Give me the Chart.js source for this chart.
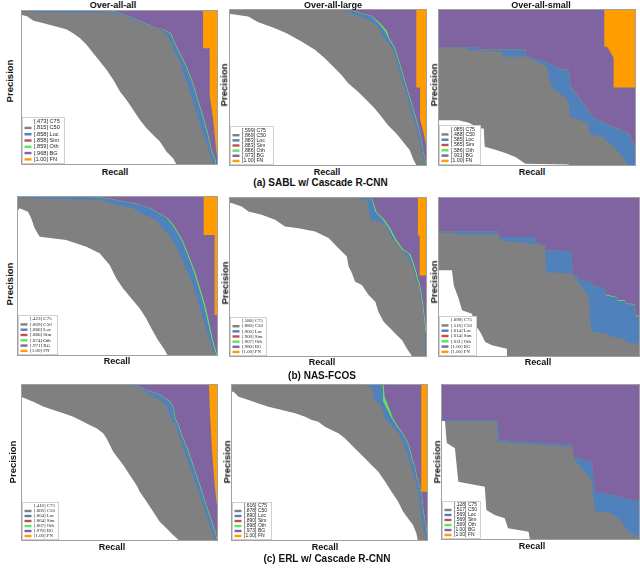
<!DOCTYPE html>
<html><head><meta charset="utf-8">
<script src="https://cdn.jsdelivr.net/npm/chart.js@4.4.0/dist/chart.umd.min.js"></script>
<style>
html,body{margin:0;padding:0;background:#fff;}
#fig{position:relative;width:640px;height:582px;overflow:hidden;font-family:"Liberation Sans",Arial,sans-serif;}
.plot{position:absolute;}
.lbl{position:absolute;font-weight:bold;font-size:9px;line-height:1;white-space:nowrap;transform:translate(-50%,-50%);color:#111;}
.ylbl{transform:translate(-50%,-50%) rotate(-90deg);font-size:9.5px;}
.cap{font-size:10px;}
</style></head><body><div id="fig"></div>
<script>
// ---------- categories / labels ----------
const SERIES = ['C75','C50','Loc','Sim','Oth','BG','FN'];
const COL_TITLES = ['Over-all-all','Over-all-large','Over-all-small'];
const ROW_CAPTIONS = ['(a) SABL w/ Cascade R-CNN','(b) NAS-FCOS','(c) ERL w/ Cascade R-CNN'];
const AXIS_X = 'Recall', AXIS_Y = 'Precision';

// ---------- AP legend values ----------
const SABL_ALL_AP   = ['.473','.815','.858','.858','.859','.968','1.00'];
const SABL_LARGE_AP = ['.599','.869','.883','.883','.886','.973','1.00'];
const SABL_SMALL_AP = ['.085','.488','.585','.585','.586','.931','1.00'];
const NAS_ALL_AP    = ['.423','.809','.866','.866','.874','.971','1.00'];
const NAS_LARGE_AP  = ['.580','.880','.900','.900','.907','.980','1.00'];
const NAS_SMALL_AP  = ['.098','.516','.614','.614','.631','1.00','1.00'];
const ERL_ALL_AP    = ['.416','.806','.864','.864','.867','.970','1.00'];
const ERL_LARGE_AP  = ['.616','.878','.890','.890','.898','.973','1.00'];
const ERL_SMALL_AP  = ['.128','.517','.569','.569','.569','1.00','1.00'];

// ---------- PR curves [recall, precision] ----------
const FN_CURVE = [[0,1],[1,1]];

const SABL_ALL_C75 = [[0,.97],[.03,.96],[.064,.931],[.115,.914],[.182,.892],[.233,.875],[.266,.849],[.300,.817],[.334,.774],[.368,.720],[.401,.667],[.435,.613],[.469,.548],[.503,.473],[.536,.419],[.570,.355],[.604,.290],[.637,.237],[.671,.194],[.705,.151],[.739,.086],[.772,.043],[.789,.004],[.79,0]];
const SABL_ALL_C50 = [[0,.99],[.06,.99],[.07,.985],[.452,.983],[.503,.968],[.570,.935],[.637,.903],[.688,.882],[.722,.860],[.747,.828],[.764,.785],[.781,.731],[.806,.667],[.823,.602],[.840,.538],[.857,.473],[.874,.409],[.890,.344],[.907,.269],[.924,.204],[.941,.140],[.958,.075],[.971,.022],[.975,0]];
const SABL_ALL_LOC = [[0,1],[.469,.99],[.520,.968],[.587,.935],[.663,.892],[.722,.871],[.758,.849],[.777,.785],[.795,.742],[.837,.634],[.870,.527],[.895,.419],[.921,.312],[.945,.204],[.964,.097],[.984,.032],[.988,0]];
const SABL_ALL_OTH = [[0,1],[.469,.993],[.524,.97],[.591,.937],[.667,.894],[.726,.873],[.762,.851],[.781,.787],[.799,.744],[.841,.636],[.874,.529],[.899,.421],[.925,.314],[.949,.206],[.968,.099],[.988,.033],[.992,0]];
const SABL_ALL_BG  = [[0,1],[.924,1],[.924,.753],[.958,.753],[.958,.45],[.975,.30],[.983,.20],[.99,.1],[1,.02]];

const SABL_LARGE_C75 = [[0,.97],[.097,.953],[.148,.915],[.232,.878],[.291,.846],[.366,.793],[.434,.740],[.484,.687],[.526,.633],[.568,.580],[.602,.527],[.652,.473],[.694,.420],[.736,.367],[.770,.313],[.803,.260],[.845,.207],[.879,.154],[.913,.100],[.929,.047],[.946,.004],[.947,0]];
const SABL_LARGE_C50 = [[0,1],[.585,.996],[.618,.974],[.703,.932],[.753,.889],[.770,.846],[.803,.783],[.829,.740],[.854,.633],[.879,.527],[.904,.420],[.929,.313],[.955,.207],[.971,.100],[.983,.036],[.988,0]];
const SABL_LARGE_LOC = [[0,1],[.585,1],[.635,.983],[.719,.953],[.761,.900],[.787,.857],[.803,.815],[.837,.745],[.862,.640],[.887,.533],[.913,.425],[.938,.318],[.963,.21],[.978,.10],[.99,.03],[.994,0]];
const SABL_LARGE_OTH = [[0,1],[.59,1],[.638,.985],[.722,.955],[.768,.905],[.797,.862],[.808,.818],[.841,.747],[.866,.642],[.891,.535],[.917,.427],[.942,.32],[.966,.212],[.981,.10],[.993,.03],[.997,0]];
const SABL_LARGE_BG  = [[0,1],[.946,1],[.946,.50],[.965,.50],[.965,.30],[.985,.2],[1,.1]];

const SABL_SMALL_C75 = [[0,.292],[.104,.292],[.155,.275],[.214,.239],[.231,.239],[.236,.122],[.290,.104],[.340,.083],[.391,.058],[.441,.015],[.66,.009],[.663,0]];
const SABL_SMALL_C50 = [[0,.755],[.146,.755],[.15,.740],[.32,.729],[.33,.697],[.44,.697],[.50,.665],[.55,.633],[.56,.569],[.575,.505],[.60,.473],[.64,.441],[.66,.41],[.665,.313],[.72,.29],[.76,.271],[.765,.207],[.84,.18],[.845,.164],[.89,.122],[.925,.07],[.955,.015],[.955,0]];
const SABL_SMALL_LOC = [[0,.757],[.206,.757],[.206,.742],[.441,.742],[.441,.70],[.542,.665],[.626,.612],[.66,.612],[.668,.505],[.769,.335],[.778,.313],[.879,.249],[.963,.207],[.989,.132],[1,.05]];
const SABL_SMALL_OTH = [[0,.758],[.206,.758],[.207,.743],[.441,.743],[.442,.70],[.543,.666],[.627,.613],[.661,.613],[.669,.506],[.77,.336],[.779,.314],[.88,.25],[.964,.208],[.99,.133],[1,.052]];
const SABL_SMALL_BG  = [[0,1],[.84,1],[.84,.76],[.854,.76],[.887,.69],[.887,.50],[1,.50]];

const NAS_ALL_C75 = [[0,.90],[.013,.923],[.055,.902],[.071,.860],[.088,.798],[.113,.746],[.245,.725],[.345,.683],[.411,.642],[.461,.569],[.494,.485],[.527,.423],[.569,.360],[.610,.298],[.643,.235],[.668,.173],[.701,.100],[.735,.038],[.751,0]];
const NAS_ALL_C50 = [[0,.99],[.11,.985],[.411,.975],[.47,.95],[.577,.923],[.627,.883],[.678,.860],[.70,.838],[.755,.756],[.806,.652],[.84,.548],[.875,.444],[.90,.340],[.925,.235],[.95,.131],[.975,.027],[.985,0]];
const NAS_ALL_LOC = [[0,1],[.41,.99],[.577,.954],[.66,.923],[.743,.862],[.772,.819],[.818,.725],[.851,.621],[.879,.527],[.904,.423],[.929,.319],[.948,.215],[.967,.110],[.984,.035],[.99,0]];
const NAS_ALL_OTH = [[0,1],[.41,.994],[.582,.957],[.666,.924],[.749,.862],[.779,.819],[.824,.725],[.857,.621],[.886,.527],[.911,.423],[.936,.319],[.955,.215],[.973,.110],[.99,.035],[.996,0]];
const NAS_ALL_BG  = [[0,1],[.929,1],[.929,.756],[.983,.756],[.983,.256],[1,.256]];

const NAS_LARGE_C75 = [[0,.962],[.013,.962],[.064,.941],[.098,.910],[.165,.889],[.233,.858],[.283,.816],[.351,.805],[.435,.785],[.503,.743],[.553,.680],[.595,.628],[.604,.565],[.621,.523],[.637,.471],[.671,.450],[.705,.387],[.739,.345],[.755,.282],[.781,.220],[.815,.178],[.848,.136],[.874,.105],[.899,.052],[.924,.006],[.925,0]];
const NAS_LARGE_C50 = [[0,1],[.62,.998],[.697,.981],[.713,.861],[.755,.847],[.79,.826],[.805,.784],[.823,.742],[.848,.701],[.882,.660],[.933,.556],[.941,.492],[.958,.450],[.966,.387],[.975,.324],[.983,.241],[.988,.157],[.99,.09],[.99,0]];
const NAS_LARGE_LOC = [[0,1],[.688,1],[.722,.983],[.739,.904],[.773,.862],[.806,.805],[.84,.725],[.874,.67],[.907,.645],[.924,.595],[.941,.53],[.95,.48],[.958,.46],[.966,.41],[.975,.335],[.983,.255],[.99,.17],[1,.11]];
const NAS_LARGE_OTH = [[0,1],[.69,1],[.726,.984],[.745,.906],[.781,.864],[.814,.807],[.848,.727],[.881,.672],[.915,.646],[.93,.597],[.947,.532],[.955,.483],[.963,.462],[.971,.41],[.98,.335],[.988,.255],[.995,.17],[1,.13]];
const NAS_LARGE_BG  = [[0,1],[.954,1],[.954,.76],[.963,.76],[.963,.51],[1,.51]];

const NAS_SMALL_C75 = [[0,.542],[.069,.542],[.078,.448],[.102,.365],[.119,.292],[.168,.271],[.185,.198],[.209,.156],[.234,.094],[.267,.073],[.341,.052],[.342,0]];
const NAS_SMALL_C50 = [[0,.777],[.086,.777],[.09,.765],[.30,.765],[.308,.729],[.53,.698],[.535,.531],[.662,.521],[.695,.469],[.745,.385],[.75,.281],[.76,.156],[.835,.15],[.84,.135],[.926,.11],[.93,.094],[1,.083]];
const NAS_SMALL_LOC = [[0,.785],[.30,.785],[.30,.75],[.481,.75],[.481,.719],[.53,.70],[.53,.667],[.662,.66],[.665,.51],[.695,.51],[.70,.479],[.761,.47],[.765,.448],[.827,.43],[.83,.385],[.885,.37],[.89,.35],[.926,.348],[.93,.33],[.975,.327],[.978,.26],[1,.244]];
const NAS_SMALL_OTH = [[0,.785],[.30,.785],[.30,.75],[.481,.75],[.481,.719],[.53,.70],[.53,.667],[.662,.66],[.665,.51],[.695,.51],[.70,.479],[.761,.47],[.765,.448],[.827,.43],[.83,.39],[.885,.375],[.89,.356],[.926,.354],[.93,.335],[.975,.332],[.978,.266],[1,.25]];
const NAS_SMALL_BG  = [[0,1],[1,1]];

const ERL_ALL_C75 = [[0,.919],[.0625,.887],[.113,.856],[.164,.834],[.215,.813],[.265,.792],[.299,.771],[.333,.749],[.383,.718],[.417,.686],[.434,.654],[.451,.611],[.468,.569],[.493,.527],[.519,.484],[.552,.420],[.586,.357],[.603,.314],[.637,.251],[.671,.187],[.704,.123],[.738,.081],[.772,.038],[.806,0]];
const ERL_ALL_C50 = [[0,.994],[.535,.994],[.569,.983],[.62,.962],[.654,.93],[.704,.898],[.738,.866],[.755,.803],[.772,.76],[.789,.718],[.806,.654],[.831,.569],[.848,.505],[.865,.442],[.89,.357],[.907,.293],[.924,.229],[.941,.166],[.958,.102],[.975,.038],[.983,0]];
const ERL_ALL_LOC = [[0,1],[.569,.994],[.704,.93],[.755,.887],[.772,.845],[.78,.781],[.796,.739],[.813,.675],[.831,.622],[.848,.569],[.865,.505],[.882,.442],[.899,.378],[.916,.314],[.932,.251],[.949,.187],[.966,.123],[.983,.059],[.995,0]];
const ERL_ALL_OTH = [[0,1],[.573,.995],[.708,.931],[.759,.888],[.776,.846],[.784,.782],[.8,.74],[.817,.676],[.835,.623],[.852,.57],[.869,.506],[.886,.443],[.903,.379],[.92,.315],[.936,.252],[.953,.188],[.97,.124],[.987,.06],[.998,0]];
const ERL_ALL_BG  = [[0,1],[.954,1],[.96,.79],[.97,.57],[.983,.36],[.992,.25],[1,.2]];

const ERL_LARGE_C75 = [[0,.95],[.013,.951],[.039,.919],[.089,.898],[.14,.876],[.19,.855],[.258,.834],[.326,.813],[.376,.792],[.41,.77],[.443,.76],[.477,.728],[.51,.707],[.545,.686],[.578,.654],[.612,.611],[.646,.569],[.68,.527],[.713,.484],[.747,.442],[.781,.38],[.815,.314],[.848,.251],[.874,.187],[.899,.144],[.924,.102],[.941,.049],[.949,0]];
const ERL_LARGE_C50 = [[0,.994],[.66,.994],[.70,.985],[.72,.97],[.725,.90],[.76,.87],[.781,.781],[.857,.675],[.89,.569],[.916,.463],[.941,.357],[.958,.251],[.966,.144],[.983,.059],[.99,0]];
const ERL_LARGE_LOC = [[0,1],[.70,1],[.77,.99],[.772,.887],[.798,.824],[.815,.781],[.848,.717],[.874,.675],[.899,.611],[.916,.526],[.933,.463],[.941,.41],[.953,.357],[.966,.293],[.975,.187],[.987,.102],[.995,.038],[1,0]];
const ERL_LARGE_OTH = [[0,1],[.70,1],[.775,.995],[.78,.915],[.808,.83],[.821,.784],[.853,.719],[.878,.677],[.903,.613],[.92,.528],[.936,.465],[.944,.412],[.956,.359],[.969,.295],[.978,.189],[.99,.104],[.998,.04],[1,.02]];
const ERL_LARGE_BG  = [[0,1],[.966,1],[.966,.314],[1,.314]];

const ERL_SMALL_C75 = [[0,.763],[.02,.763],[.029,.621],[.07,.588],[.087,.374],[.22,.342],[.228,.192],[.27,.16],[.32,.139],[.337,.075],[.44,.053],[.447,0]];
const ERL_SMALL_C50 = [[0,.763],[.28,.763],[.285,.63],[.657,.598],[.665,.534],[.69,.481],[.74,.417],[.757,.374],[.774,.182],[.858,.171],[.908,.118],[.941,.053],[.992,.021],[1,.02]];
const ERL_SMALL_LOC = [[0,.77],[.285,.77],[.29,.64],[.657,.61],[.665,.535],[.757,.5],[.774,.31],[.858,.29],[.95,.26],[1,.246]];
const ERL_SMALL_OTH = [[0,.77],[.285,.77],[.29,.64],[.657,.61],[.665,.535],[.757,.5],[.774,.31],[.858,.29],[.95,.26],[1,.246]];
const ERL_SMALL_BG  = [[0,1],[1,1]];

// ---------- panel -> data ----------
const PANEL_DATA = [
  [SABL_ALL_C75,SABL_ALL_C50,SABL_ALL_LOC,SABL_ALL_LOC,SABL_ALL_OTH,SABL_ALL_BG,FN_CURVE,SABL_ALL_AP],
  [SABL_LARGE_C75,SABL_LARGE_C50,SABL_LARGE_LOC,SABL_LARGE_LOC,SABL_LARGE_OTH,SABL_LARGE_BG,FN_CURVE,SABL_LARGE_AP],
  [SABL_SMALL_C75,SABL_SMALL_C50,SABL_SMALL_LOC,SABL_SMALL_LOC,SABL_SMALL_OTH,SABL_SMALL_BG,FN_CURVE,SABL_SMALL_AP],
  [NAS_ALL_C75,NAS_ALL_C50,NAS_ALL_LOC,NAS_ALL_LOC,NAS_ALL_OTH,NAS_ALL_BG,FN_CURVE,NAS_ALL_AP],
  [NAS_LARGE_C75,NAS_LARGE_C50,NAS_LARGE_LOC,NAS_LARGE_LOC,NAS_LARGE_OTH,NAS_LARGE_BG,FN_CURVE,NAS_LARGE_AP],
  [NAS_SMALL_C75,NAS_SMALL_C50,NAS_SMALL_LOC,NAS_SMALL_LOC,NAS_SMALL_OTH,NAS_SMALL_BG,FN_CURVE,NAS_SMALL_AP],
  [ERL_ALL_C75,ERL_ALL_C50,ERL_ALL_LOC,ERL_ALL_LOC,ERL_ALL_OTH,ERL_ALL_BG,FN_CURVE,ERL_ALL_AP],
  [ERL_LARGE_C75,ERL_LARGE_C50,ERL_LARGE_LOC,ERL_LARGE_LOC,ERL_LARGE_OTH,ERL_LARGE_BG,FN_CURVE,ERL_LARGE_AP],
  [ERL_SMALL_C75,ERL_SMALL_C50,ERL_SMALL_LOC,ERL_SMALL_LOC,ERL_SMALL_OTH,ERL_SMALL_BG,FN_CURVE,ERL_SMALL_AP]
];

// ---------- layout & style ----------
const COLORS = ['#ffffff','#808080','#4f81bd','#c0504d','#5ce462','#8064a2','#ff9c00'];
const PLOT_BOX = [[21,10,197,155],[229,9,198,157],[438,9,198,157],
                  [17,196,201,160],[229,197,198,160],[438,197,202,160],
                  [21,384,197,157],[231,384,197,157],[441,384,199,156]];
const LEGEND_BOX = [[43,47,5.6],[44,39,5.2],[42,40,5.2],[40,40,5],[37,39,4.8],[38,40,4.8],[37,38,4.8],[40,38,5],[39,38,5]];
const LEGEND_SERIF = [false,false,false,true,true,true,true,false,false];
const TITLE_POS = [[113,4.5],[333,4.5],[541,4.5]];
const RECALL_POS = [[115,172],[327,172],[532,172],[117,361],[322,362],[538,362],[112,547],[325,547],[532,546]];
const PREC_POS = [[10,81],[224,85],[434,85],[9.5,284],[224.5,283],[434,282],[12.5,462],[226.5,462],[436.5,462]];
const CAPTION_POS = [[320.5,183],[322,375.5],[327,559]];

const fig = document.getElementById('fig');
function addLabel(text, x, y, cls){
  const d = document.createElement('div');
  d.className = 'lbl ' + (cls||'');
  d.textContent = text;
  d.style.left = x + 'px'; d.style.top = y + 'px';
  fig.appendChild(d);
}

const framePlugin = {
  id: 'frameLegend',
  afterDraw(chart, args, opts){
    const ctx = chart.ctx, a = chart.chartArea;
    ctx.save();
    ctx.strokeStyle = '#a0a0a0'; ctx.lineWidth = 1;
    ctx.strokeRect(a.left+0.5, a.top+0.5, a.right-a.left-1, a.bottom-a.top-1);
    const [lw, lh, fs] = opts.box;
    const lx = a.left + 1, ly = a.bottom - 1 - lh;
    ctx.fillStyle = '#ffffff'; ctx.fillRect(lx, ly, lw, lh);
    ctx.strokeStyle = '#d0d0d0'; ctx.strokeRect(lx+0.5, ly+0.5, lw-1, lh-1);
    const rowH = (lh - 3) / SERIES.length;
    ctx.font = fs + 'px ' + (opts.serif ? '"Liberation Serif","Times New Roman",serif' : '"Liberation Sans",Arial,sans-serif');
    ctx.textBaseline = 'middle'; ctx.textAlign = 'left';
    chart.data.datasets.forEach((ds, i) => {
      const cy = ly + 1.5 + rowH * (i + 0.5);
      ctx.fillStyle = ds.backgroundColor;
      ctx.fillRect(lx + 2.5, cy - 1.2, 7, 2.4);
      ctx.fillStyle = '#222';
      ctx.fillText('[' + opts.ap[i] + '] ' + ds.label, lx + 12, cy);
    });
    ctx.restore();
  }
};

PANEL_DATA.forEach((pd, k) => {
  const [x, y, w, h] = PLOT_BOX[k];
  const c = document.createElement('canvas');
  c.className = 'plot';
  c.width = w; c.height = h;
  c.style.left = x + 'px'; c.style.top = y + 'px';
  c.style.width = w + 'px'; c.style.height = h + 'px';
  fig.appendChild(c);
  const datasets = SERIES.map((s, i) => ({
    label: s,
    data: pd[i].map(([r, p]) => ({x: r, y: p})),
    fill: 'origin',
    backgroundColor: COLORS[i],
    borderColor: 'rgba(0,0,0,0)',
    borderWidth: 0,
    pointRadius: 0,
    tension: 0
  }));
  new Chart(c, {
    type: 'line',
    data: {datasets},
    options: {
      responsive: false, animation: false, events: [],
      layout: {padding: 0},
      plugins: {legend: {display: false}, tooltip: {enabled: false},
                frameLegend: {box: LEGEND_BOX[k], serif: LEGEND_SERIF[k], ap: pd[7]}},
      scales: {
        x: {type: 'linear', min: 0, max: 1, display: false},
        y: {type: 'linear', min: 0, max: 1, display: false}
      }
    },
    plugins: [framePlugin]
  });
  addLabel(AXIS_X, RECALL_POS[k][0], RECALL_POS[k][1]);
  addLabel(AXIS_Y, PREC_POS[k][0], PREC_POS[k][1], 'ylbl');
});
COL_TITLES.forEach((t, i) => addLabel(t, TITLE_POS[i][0], TITLE_POS[i][1]));
ROW_CAPTIONS.forEach((t, i) => addLabel(t, CAPTION_POS[i][0], CAPTION_POS[i][1], 'cap'));
</script></body></html>
